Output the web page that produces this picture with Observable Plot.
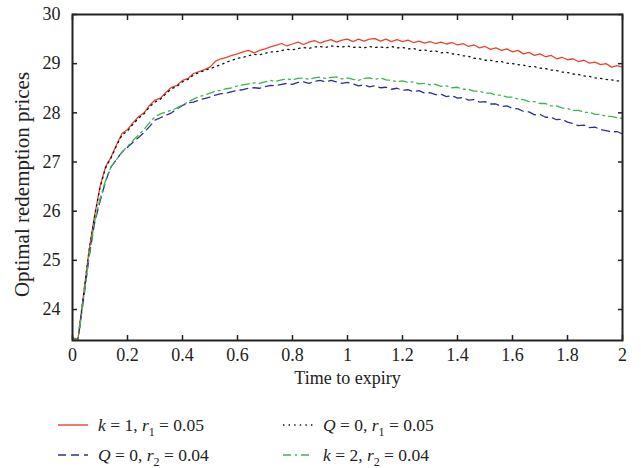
<!DOCTYPE html>
<html>
<head>
<meta charset="utf-8">
<script src="https://cdn.jsdelivr.net/npm/d3@7"></script>
<script src="https://cdn.jsdelivr.net/npm/@observablehq/plot@0.6"></script>
<style>
  html, body { margin: 0; padding: 0; background: #fff; }
  #wrap { width: 641px; height: 468px; position: relative; font-family: "Liberation Serif", "DejaVu Serif", serif; color: #222; }
  #legend { position: relative; width: 641px; height: 73px; font-size: 17.5px; }
  .item { position: absolute; display: flex; align-items: center; white-space: nowrap; }
  .item svg { margin-right: 10px; }
  .item i { font-style: italic; }
  .item sub { font-size: 12px; vertical-align: -5px; line-height: 0; }
</style>
</head>
<body>
<div id="wrap">
  <div id="chart"></div>
  <div id="legend"></div>
</div>
<script>
// Time to expiry (step 0.02 from 0 to 2)
const times = d3.range(0, 101).map(i => +(i * 0.02).toFixed(2));

// k = 1, r1 = 0.05
const seriesK1 = [23.42,23.40,24.30,25.20,25.90,26.50,26.90,27.10,27.35,27.58,
  27.66,27.80,27.92,28.00,28.15,28.26,28.30,28.42,28.52,28.56,
  28.66,28.70,28.80,28.84,28.88,28.93,29.05,29.10,29.13,29.17,
  29.20,29.24,29.27,29.22,29.27,29.30,29.34,29.37,29.41,29.36,
  29.40,29.44,29.39,29.44,29.47,29.42,29.46,29.49,29.44,29.48,
  29.50,29.45,29.50,29.46,29.50,29.51,29.46,29.50,29.45,29.49,
  29.45,29.48,29.43,29.46,29.42,29.45,29.41,29.44,29.40,29.43,
  29.38,29.41,29.35,29.38,29.32,29.35,29.29,29.32,29.27,29.30,
  29.24,29.27,29.20,29.23,29.17,29.20,29.14,29.17,29.10,29.13,
  29.08,29.10,29.04,29.07,29.01,29.03,28.98,29.00,28.93,28.96,28.93];

// Q = 0, r1 = 0.05
const seriesQ1 = [23.42,23.40,24.28,25.18,25.88,26.48,26.88,27.08,27.33,27.55,
  27.63,27.77,27.89,27.98,28.12,28.22,28.28,28.39,28.49,28.54,
  28.63,28.68,28.77,28.82,28.86,28.90,28.94,28.98,29.03,29.07,
  29.11,29.13,29.16,29.19,29.18,29.21,29.24,29.24,29.27,29.29,
  29.28,29.31,29.33,29.31,29.34,29.35,29.33,29.36,29.35,29.34,
  29.36,29.33,29.34,29.32,29.35,29.33,29.34,29.32,29.35,29.32,
  29.33,29.30,29.31,29.27,29.28,29.25,29.26,29.22,29.23,29.20,
  29.19,29.16,29.15,29.11,29.10,29.07,29.07,29.04,29.04,29.01,
  29.00,28.98,28.97,28.94,28.94,28.91,28.90,28.87,28.86,28.83,
  28.82,28.79,28.78,28.75,28.74,28.71,28.70,28.68,28.67,28.65,28.65];

// Q = 0, r2 = 0.04
const seriesQ2 = [23.42,23.38,24.20,25.05,25.75,26.20,26.60,26.90,27.05,27.20,
  27.30,27.40,27.50,27.60,27.72,27.85,27.90,27.95,28.00,28.08,
  28.15,28.20,28.22,28.26,28.29,28.32,28.36,28.39,28.40,28.43,
  28.46,28.47,28.50,28.51,28.50,28.53,28.56,28.55,28.58,28.60,
  28.58,28.62,28.63,28.60,28.64,28.66,28.63,28.66,28.63,28.60,
  28.62,28.59,28.55,28.57,28.53,28.55,28.51,28.52,28.48,28.50,
  28.46,28.47,28.43,28.45,28.40,28.41,28.37,28.38,28.33,28.35,
  28.30,28.31,28.26,28.27,28.22,28.23,28.18,28.18,28.13,28.14,
  28.09,28.08,28.03,28.02,27.96,27.97,27.91,27.91,27.86,27.87,
  27.81,27.78,27.74,27.75,27.70,27.71,27.66,27.64,27.61,27.62,27.57];

// k = 2, r2 = 0.04
const seriesK2 = [23.42,23.38,24.22,25.08,25.78,26.25,26.62,26.90,27.05,27.20,
  27.32,27.44,27.55,27.66,27.80,27.92,27.98,28.02,28.05,28.10,
  28.16,28.22,28.28,28.33,28.36,28.40,28.44,28.46,28.49,28.51,
  28.55,28.57,28.59,28.61,28.60,28.63,28.66,28.64,28.67,28.69,
  28.67,28.70,28.71,28.68,28.71,28.73,28.70,28.72,28.73,28.69,
  28.71,28.68,28.66,28.70,28.71,28.68,28.71,28.67,28.66,28.63,
  28.65,28.62,28.63,28.59,28.60,28.57,28.58,28.54,28.55,28.51,
  28.52,28.48,28.48,28.44,28.44,28.40,28.40,28.36,28.36,28.32,
  28.32,28.28,28.27,28.23,28.23,28.19,28.19,28.14,28.14,28.10,
  28.09,28.05,28.05,28.01,28.01,27.97,27.97,27.93,27.93,27.90,27.89];

const xTicks = [0, 0.2, 0.4, 0.6, 0.8, 1, 1.2, 1.4, 1.6, 1.8, 2];
const xTickLabels = ["0", "0.2", "0.4", "0.6", "0.8", "1", "1.2", "1.4", "1.6", "1.8", "2"];
const yTicks = [24, 25, 26, 27, 28, 29, 30];
const yDomain = [23.37, 30];
const xLabel = "Time to expiry";
const yLabel = "Optimal redemption prices";

const series = [
  {key: "k1", values: seriesK1, color: "#e8452c", dash: null, label: ["k", " = 1, ", "r", "1", " = 0.05"]},
  {key: "Q1", values: seriesQ1, color: "#111111", dash: "1.4,4.2", label: ["Q", " = 0, ", "r", "1", " = 0.05"]},
  {key: "Q2", values: seriesQ2, color: "#2e2f96", dash: "8,5", label: ["Q", " = 0, ", "r", "2", " = 0.04"]},
  {key: "k2", values: seriesK2, color: "#3cb54a", dash: "8,4,2,4", label: ["k", " = 2, ", "r", "2", " = 0.04"]}
];

const lineMarks = series.map(s => Plot.line(times.map((t, i) => ({t, v: s.values[i]})), {
  x: "t", y: "v", stroke: s.color, strokeWidth: 1.3, strokeDasharray: s.dash
}));

const fmtX = d => xTickLabels[xTicks.indexOf(d)];

const chart = Plot.plot({
  width: 641,
  height: 395,
  marginLeft: 72,
  marginRight: 19,
  marginTop: 14,
  marginBottom: 55,
  style: {fontFamily: "Liberation Serif, DejaVu Serif, serif", fontSize: "18px", color: "#222", background: "#fff"},
  x: {domain: [0, 2]},
  y: {domain: yDomain},
  marks: [
    ...lineMarks,
    Plot.axisX({anchor: "bottom", ticks: xTicks, tickSize: 0, tickPadding: 8, tickFormat: fmtX, label: null}),
    Plot.axisX({anchor: "bottom", ticks: xTicks, tickSize: -5, tickFormat: () => "", label: null, stroke: "#222", strokeWidth: 1.5}),
    Plot.axisX({anchor: "top", ticks: xTicks, tickSize: -5, tickFormat: () => "", label: null, stroke: "#222", strokeWidth: 1.5}),
    Plot.axisY({anchor: "left", ticks: yTicks, tickSize: 0, tickPadding: 12, tickFormat: d => String(d), label: null}),
    Plot.axisY({anchor: "left", ticks: yTicks, tickSize: -5, tickFormat: () => "", label: null, stroke: "#222", strokeWidth: 1.5}),
    Plot.axisY({anchor: "right", ticks: yTicks, tickSize: -5, tickFormat: () => "", label: null, stroke: "#222", strokeWidth: 1.5}),
    Plot.frame({stroke: "#222", strokeWidth: 2}),
    Plot.text([xLabel], {text: d => d, frameAnchor: "bottom", textAnchor: "middle", dy: 43, fontSize: 18, fill: "#222"}),
    Plot.text([yLabel], {text: d => d, frameAnchor: "left", textAnchor: "middle", rotate: -90, dx: -50, dy: 7, fontSize: 21, fill: "#222"})
  ]
});
document.getElementById("chart").appendChild(chart);

// Legend
const legend = document.getElementById("legend");
const legendPos = [[58, 18], [283, 18], [58, 48], [283, 48]];
const legendOrder = ["k1", "Q1", "Q2", "k2"];
legendOrder.forEach((key, i) => {
  const s = series.find(d => d.key === key);
  const div = document.createElement("div");
  div.className = "item";
  div.style.left = legendPos[i][0] + "px";
  div.style.top = legendPos[i][1] + "px";
  div.style.height = "24px";
  const dash = s.dash ? `stroke-dasharray="${s.dash}"` : "";
  div.innerHTML = `<svg width="30" height="10"><line x1="0" y1="5" x2="30" y2="5" stroke="${s.color}" stroke-width="1.4" ${dash}/></svg>` +
    `<span><i>${s.label[0]}</i>${s.label[1]}<i>${s.label[2]}</i><sub>${s.label[3]}</sub>${s.label[4]}</span>`;
  legend.appendChild(div);
});
</script>
</body>
</html>
